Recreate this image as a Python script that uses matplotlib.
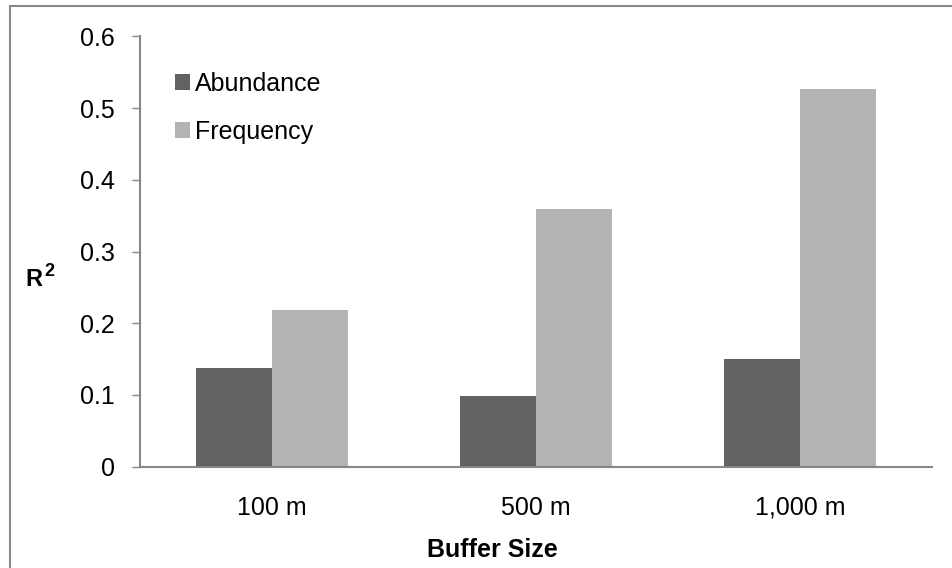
import numpy as np
import matplotlib.pyplot as plt
from matplotlib.patches import Rectangle

plt.rcParams['font.family'] = ['Liberation Sans', 'DejaVu Sans']

buffers = ['100 m', '500 m', '1,000 m']
abundance = [0.137, 0.098, 0.150]
frequency = [0.219, 0.359, 0.526]

dark = '#626262'
light = '#b3b3b3'
axis_grey = '#878787'

fig = plt.figure(figsize=(9.52, 5.68), dpi=100)
ax = fig.add_axes([140/952, 1-466.7/568, 792/952, 430.3/568])

x = np.arange(len(buffers))
w = 0.286
ax.bar(x - w/2, abundance, w, color=dark, label='Abundance')
ax.bar(x + w/2, frequency, w, color=light, label='Frequency')

ax.set_xlim(-0.5, 2.5)
ax.set_ylim(0, 0.6)
ax.set_yticks(np.arange(0, 0.61, 0.1))
ax.set_yticklabels(['0', '0.1', '0.2', '0.3', '0.4', '0.5', '0.6'])
ax.set_xticks(x)
ax.set_xticklabels(buffers)

for s in ['top', 'right']:
    ax.spines[s].set_visible(False)
for s in ['left', 'bottom']:
    ax.spines[s].set_color(axis_grey)
    ax.spines[s].set_linewidth(1.5)
ax.tick_params(axis='y', length=6, width=1, color=axis_grey, labelsize=18, pad=12)
ax.tick_params(axis='x', length=0, labelsize=18, pad=21)

ax.legend(loc='upper left', bbox_to_anchor=(0.032, 0.94), frameon=False,
          fontsize=18, handlelength=0.6, handleheight=0.6, handletextpad=0.2,
          labelspacing=0.95, borderaxespad=0)

# y label "R" with a raised "2"
fig.text(25/952, 1-279/568, 'R', fontsize=17, fontweight='bold',
         ha='left', va='center')
fig.text(44/952, 1-272/568, '2', fontsize=13, fontweight='bold',
         ha='left', va='center')
fig.text(492/952, 1-550/568, 'Buffer Size', fontsize=18, fontweight='bold',
         ha='center', va='center')

# outer chart border (right and bottom fall outside the image)
fig.patches.append(Rectangle((10/952, -0.05), 1.1, 1-5.7/568+0.05,
                             transform=fig.transFigure, fill=False,
                             edgecolor=axis_grey, linewidth=1.5))

fig.savefig('out.png', dpi=100)
